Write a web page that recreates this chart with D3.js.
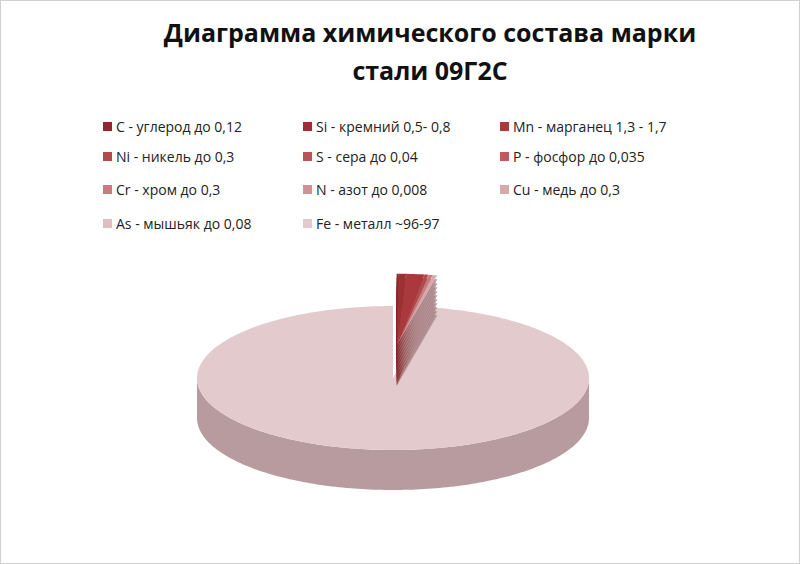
<!DOCTYPE html>
<html><head><meta charset="utf-8">
<script src="https://cdn.jsdelivr.net/npm/d3@7"></script>
<style>body{margin:0;background:#fff}svg{display:block}</style>
</head><body><svg id="chart" width="800" height="564"></svg>
<script>
/* DATA */
var elements = ["C - углерод до 0,12","Si - кремний 0,5- 0,8","Mn - марганец 1,3 - 1,7","Ni - никель до 0,3","S - сера до 0,04","P - фосфор до 0,035","Cr - хром до 0,3","N - азот до 0,008","Cu - медь до 0,3","As - мышьяк до 0,08","Fe - металл ~96-97"];
var shares = [0.12, 0.65, 1.5, 0.3, 0.04, 0.035, 0.3, 0.008, 0.3, 0.08, 96.5];
var colors = ["#8a2a2e","#9c3034","#a9393c","#b34a4d","#b95558","#c05a5e","#c97b7e","#d09094","#d8a9ac","#dfbdc0","#e3cbcd"];

var svg = d3.select("#chart");
svg.append("rect").attr("x",0.5).attr("y",0.5).attr("width",799).attr("height",563)
  .attr("fill","#fff").attr("stroke","#d0d0d0");

/* TITLE */
var title = svg.append("text").attr("text-anchor","middle")
  .attr("font-family","'Open Sans', sans-serif").attr("font-weight","bold").attr("font-size",25).attr("fill","#111");
title.append("tspan").attr("x",430).attr("y",42).text("Диаграмма химического состава марки");
title.append("tspan").attr("x",430).attr("y",80).text("стали 09Г2С");

/* LEGEND */
var colX = [103, 303, 500], rowY = [127, 157, 190, 224];
var leg = svg.append("g").selectAll("g").data(elements).join("g")
  .attr("transform", function(d,i){ return "translate(" + colX[i%3] + "," + rowY[Math.floor(i/3)] + ")"; });
leg.append("rect").attr("x",0).attr("y",-5).attr("width",9).attr("height",9)
  .attr("fill", function(d,i){ return colors[i]; });
leg.append("text").attr("x",13).attr("y",5).attr("font-family","'Open Sans', sans-serif")
  .attr("font-size",14).attr("fill","#222").text(function(d){ return d; });

/* 3D PIE */
var cx = 393, cy = 378, rx = 196, ry = 72, depth = 40;
var arcs = d3.pie().sort(null).startAngle(0).endAngle(2*Math.PI)(shares);

function pt(a, r, off){ return [cx + off[0] + r*rx*Math.sin(a), cy + off[1] - r*ry*Math.cos(a)]; }
function arcPts(a0, a1, off, dy){
  var n = Math.max(2, Math.ceil((a1-a0)/0.02)), p = [];
  for (var k = 0; k <= n; k++){ var q = pt(a0 + (a1-a0)*k/n, 1, off); p.push([q[0], q[1] + (dy||0)]); }
  return p;
}
function wedge(a0, a1, off, dy){
  var c = pt(0, 0, off);
  return "M" + c[0] + "," + (c[1] + (dy||0)) + "L" + arcPts(a0, a1, off, dy).join("L") + "Z";
}
function offsetFor(d){
  if (d.index === shares.length - 1) return [0, 0];
  var m = (arcs[0].startAngle + arcs[shares.length-2].endAngle) / 2;
  return [Math.sin(m)*0.08*rx + 2, -Math.cos(m)*0.45*ry];
}
var g = svg.append("g");

/* Fe side wall */
var fe = arcs[arcs.length-1];
var s0 = Math.max(fe.startAngle, Math.PI/2), s1 = Math.min(fe.endAngle, 3*Math.PI/2);
var rim = arcPts(s0, s1, [0,0], 0), bot = arcPts(s0, s1, [0,0], depth).reverse();
g.append("path").attr("d", "M" + rim.join("L") + "L" + bot.join("L") + "Z").attr("fill","#b89b9e");
/* Fe top */
g.append("path").attr("d", wedge(fe.startAngle, fe.endAngle, [0,0])).attr("fill", colors[colors.length-1]);

/* small exploded slices: shadow body then tops */
var small = arcs.slice(0, arcs.length-1);
small.forEach(function(d){
  var off = offsetFor(d);
  for (var s = depth; s > 0; s -= 4)
    g.append("path").attr("d", wedge(d.startAngle, d.endAngle, off, s)).attr("fill", d3.color(colors[d.index]).darker(0.6));
});
small.forEach(function(d){
  g.append("path").attr("d", wedge(d.startAngle, d.endAngle, offsetFor(d))).attr("fill", colors[d.index]);
});
</script></body></html>
